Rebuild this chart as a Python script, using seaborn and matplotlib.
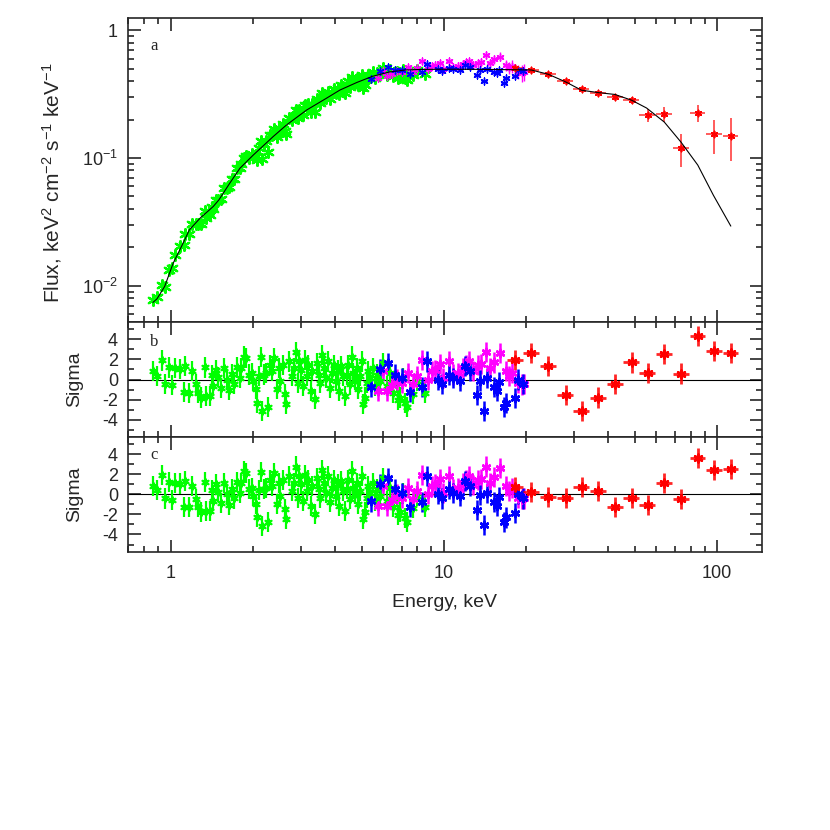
import numpy as np
import matplotlib
matplotlib.use("Agg")
import matplotlib.pyplot as plt
from matplotlib.ticker import FixedLocator, FixedFormatter, LogLocator, NullFormatter, MultipleLocator
import seaborn as sns

# ---- model curve (keV, flux) ----
model_e = [0.86, 0.89, 0.95, 1.02, 1.11, 1.17, 1.28, 1.43, 1.5, 1.64, 1.79, 2.0, 2.37, 2.65,
           3.14, 3.7, 4.16, 4.8, 5.5, 6.34, 7.2, 8.2, 10, 13, 16, 19, 20.9, 24.1, 27.9, 31.9,
           36.7, 42.3, 48.7, 55.2, 64.1, 73.8, 85, 97, 112.3]
model_f = [0.0074, 0.0079, 0.0099, 0.015, 0.0216, 0.0274, 0.0338, 0.0417, 0.047, 0.063, 0.083,
           0.105, 0.147, 0.181, 0.237, 0.292, 0.34, 0.39, 0.437, 0.472, 0.488, 0.493, 0.495,
           0.494, 0.492, 0.49, 0.488, 0.452, 0.394, 0.339, 0.325, 0.314, 0.283, 0.246, 0.191,
           0.133, 0.088, 0.051, 0.0293]

# ---- green instrument ----
green_e = [0.857, 0.891, 0.925, 0.953, 0.986, 1.01, 1.04, 1.08, 1.12, 1.13, 1.17, 1.20, 1.24,
           1.26, 1.29, 1.33, 1.35, 1.39, 1.41, 1.43, 1.46, 1.49, 1.53, 1.56, 1.60, 1.64, 1.68,
           1.71, 1.75, 1.79, 1.81, 1.85, 1.89, 1.93, 1.98, 2.00, 2.05, 2.07, 2.11, 2.14, 2.16,
           2.19, 2.24, 2.27, 2.30, 2.35, 2.39, 2.44, 2.48, 2.52, 2.57, 2.62, 2.65, 2.71, 2.77,
           2.82, 2.87, 2.91, 2.95, 2.99, 3.05, 3.10, 3.14, 3.19, 3.25, 3.30, 3.36, 3.42, 3.48,
           3.53, 3.59, 3.65, 3.70, 3.76, 3.82, 3.89, 3.95, 4.02, 4.08, 4.14, 4.21, 4.28, 4.34,
           4.40, 4.46, 4.53, 4.59, 4.65, 4.72, 4.79, 4.86, 4.92, 5.00, 5.06, 5.14, 5.21, 5.28,
           5.36, 5.51, 5.59, 5.67, 5.83, 6.00, 6.17, 6.34, 6.52, 6.71, 6.80, 6.90, 7.10, 7.20,
           7.30, 7.72, 7.94, 8.50]
green_f = [0.0078, 0.0082, 0.0102, 0.0097, 0.0134, 0.0137, 0.0174, 0.0204, 0.0208, 0.0252,
           0.0253, 0.0304, 0.0306, 0.0302, 0.0306, 0.0388, 0.0338, 0.0357, 0.0417, 0.0401,
           0.0466, 0.047, 0.0474, 0.0577, 0.058, 0.059, 0.069, 0.069, 0.084, 0.084, 0.090,
           0.100, 0.104, 0.100, 0.107, 0.104, 0.104, 0.097, 0.119, 0.135, 0.098, 0.129, 0.136,
           0.112, 0.150, 0.151, 0.168, 0.146, 0.171, 0.163, 0.186, 0.162, 0.155, 0.207, 0.197,
           0.212, 0.237, 0.204, 0.236, 0.230, 0.216, 0.259, 0.242, 0.263, 0.231, 0.265, 0.229,
           0.291, 0.279, 0.271, 0.323, 0.307, 0.295, 0.330, 0.289, 0.322, 0.345, 0.321, 0.350,
           0.315, 0.371, 0.358, 0.321, 0.373, 0.399, 0.362, 0.430, 0.398, 0.388, 0.417, 0.372,
           0.408, 0.450, 0.350, 0.371, 0.413, 0.445, 0.433, 0.468, 0.425, 0.460, 0.451, 0.507,
           0.449, 0.490, 0.439, 0.475, 0.423, 0.432, 0.492, 0.419, 0.408, 0.450, 0.487, 0.455]
green_res = [0.81, 0.39, 1.89, -0.42, 1.2, -0.55, 1.14, 1.07, -1.24, 1.3, -1.3, 0.81, -0.49,
             -1.3, -1.79, 1.2, -1.63, -1.63, 0.42, -0.65, 0.98, 0.23, -0.88, 1.14, 0.0, -1.07,
             0.55, -0.42, 1.2, 0.16, 1.14, 2.28, 2.11, 0.49, 0.65, -0.16, -0.98, -2.28, 0.39,
             2.21, -3.15, 0.49, 0.65, -2.76, 1.4, 0.81, 2.11, -0.98, 1.14, -0.16, 1.46, -1.46,
             -2.44, 1.79, 0.33, 1.14, 2.76, -0.33, 1.79, 0.98, -0.65, 1.95, 0.33, 1.46, -1.14,
             0.81, -1.95, 1.63, 0.49, -0.33, 2.44, 1.14, 0.16, 1.79, -0.81, 0.65, 1.46, -0.16,
             0.98, -1.14, 1.3, 0.33, -1.63, 0.49, 1.46, -0.49, 2.28, 0.65, 0.0, 1.14, -0.98,
             0.33, 1.79, -2.44, -1.79, -0.33, 0.81, 0.16, 1.14, -0.65, 0.49, -0.16, 1.63, -0.65,
             0.65, -1.3, -0.16, -2.05, -1.79, 0.16, -2.37, -2.76, -1.4, -0.16, -1.3]

# ---- blue instrument ----
blue_e = [5.43, 5.83, 6.25, 6.62, 7.0, 7.5, 8.28, 8.69, 9.53, 9.86, 10.4, 10.8, 11.45, 11.9,
          12.5, 13.2, 13.55, 14.0, 14.4, 15.2, 15.6, 15.9, 16.6, 16.9, 18.2, 18.7, 19.4]
blue_f = [0.415, 0.483, 0.516, 0.492, 0.490, 0.453, 0.471, 0.546, 0.495, 0.483, 0.509, 0.500,
          0.490, 0.533, 0.518, 0.449, 0.491, 0.403, 0.497, 0.471, 0.459, 0.486, 0.385, 0.423,
          0.436, 0.490, 0.478]
blue_res = [-0.72, 1.04, 1.63, 0.49, 0.16, -1.24, -0.75, 1.79, 0.0, -0.42, 0.49, 0.16, -0.16,
            1.3, 0.81, -1.53, -0.1, -3.09, 0.16, -0.75, -1.14, -0.23, -2.76, -2.31, -1.85,
            0.0, -0.42]

# ---- magenta instrument ----
mag_e = [5.75, 5.96, 6.17, 6.43, 6.71, 7.0, 7.4, 7.72, 7.94, 8.33, 8.76, 9.02, 9.27, 9.67,
         9.94, 10.4, 10.8, 11.3, 11.7, 12.0, 12.4, 12.8, 13.3, 13.7, 14.3, 14.7, 15.2, 16.0,
         16.9, 17.3, 17.8, 18.6, 19.3, 19.6]
mag_f = [0.420, 0.483, 0.435, 0.458, 0.480, 0.475, 0.511, 0.474, 0.504, 0.570, 0.493, 0.526,
         0.533, 0.556, 0.501, 0.574, 0.517, 0.524, 0.546, 0.560, 0.573, 0.533, 0.558, 0.561,
         0.645, 0.549, 0.590, 0.620, 0.531, 0.507, 0.523, 0.474, 0.466, 0.469]
mag_res = [-1.14, 0.81, -1.14, -0.55, 0.0, -0.33, 0.65, -0.49, 0.33, 1.95, 0.0, 0.81, 0.98,
           1.53, 0.16, 1.79, 0.49, 0.65, 1.14, 1.46, 1.79, 0.88, 1.46, 1.53, 2.76, 1.14, 1.69,
           2.6, 0.81, 0.33, 0.65, -0.33, -0.49, -0.42]
mag_ferr = [0.02, 0.02, 0.02, 0.02, 0.02, 0.02, 0.025, 0.025, 0.025, 0.025, 0.025, 0.03, 0.03,
            0.03, 0.03, 0.03, 0.03, 0.035, 0.035, 0.035, 0.035, 0.04, 0.04, 0.04, 0.045, 0.045,
            0.045, 0.05, 0.05, 0.055, 0.06, 0.06, 0.07, 0.07]

# ---- red instrument ----
red_e = [18.2, 20.9, 24.1, 27.9, 31.9, 36.7, 42.3, 48.7, 55.7, 64.1, 73.8, 85.0, 97.5, 112.3]
red_de = [1.2, 1.4, 1.6, 1.9, 2.1, 2.4, 2.8, 3.3, 3.7, 4.3, 4.9, 5.7, 6.5, 7.5]
red_f = [0.505, 0.49, 0.458, 0.40, 0.349, 0.325, 0.30, 0.283, 0.216, 0.22, 0.12, 0.225,
         0.153, 0.149]
red_ferr = [0.012, 0.01, 0.01, 0.01, 0.012, 0.012, 0.015, 0.018, 0.025, 0.03, 0.035, 0.035,
            0.045, 0.055]
red_res_b = [1.95, 2.6, 1.37, -1.53, -3.12, -1.79, -0.42, 1.69, 0.65, 2.5, 0.59, 4.33, 2.83, 2.63]
red_res_c = [0.76, 0.26, -0.3, -0.33, 0.73, 0.36, -1.26, -0.4, -1.03, 1.09, -0.43, 3.6, 2.45, 2.48]

green_rel_err = 0.05
blue_rel_err = 0.035
green_rel_de = 0.012
bm_rel_de = 0.025

GREEN, BLUE, MAG, RED = "#00ff00", "#0000ff", "#ff00ff", "#ff0000"
STAR = (6, 2, 0)

sns.set_style("ticks")
plt.rcParams["font.family"] = ["Liberation Sans", "DejaVu Sans"]
plt.rcParams["mathtext.fontset"] = "custom"
plt.rcParams["mathtext.rm"] = "Liberation Sans"
plt.rcParams["mathtext.it"] = "Liberation Sans:italic"
plt.rcParams["axes.unicode_minus"] = False

fig = plt.figure(figsize=(8.3, 8.3), dpi=100)
ax_a = fig.add_axes([0.154, 0.612, 0.764, 0.366])
ax_b = fig.add_axes([0.154, 0.4735, 0.764, 0.1385])
ax_c = fig.add_axes([0.154, 0.3355, 0.764, 0.138])


def points(ax, e, y, yerr, xerr, color, lw, size, alpha=1.0):
    ax.errorbar(e, y, yerr=yerr, xerr=xerr, fmt="none", ecolor=color, elinewidth=lw,
                capsize=0, alpha=alpha, zorder=2)
    sns.scatterplot(x=e, y=y, ax=ax, marker=STAR, color=color, s=size, linewidth=lw,
                    legend=False, zorder=3)


def arr(a):
    return np.asarray(a, dtype=float)


# top panel
ge, be, me, re_ = arr(green_e), arr(blue_e), arr(mag_e), arr(red_e)
points(ax_a, ge, green_f, arr(green_f) * green_rel_err, ge * green_rel_de, GREEN, 1.6, 60)
points(ax_a, me, mag_f, mag_ferr, me * bm_rel_de, MAG, 1.0, 25)
points(ax_a, be, blue_f, arr(blue_f) * blue_rel_err, be * bm_rel_de, BLUE, 1.0, 25)
points(ax_a, re_, red_f, red_ferr, red_de, RED, 1.2, 20, alpha=0.75)
sns.lineplot(x=model_e, y=model_f, ax=ax_a, color="black", linewidth=0.8, sort=False,
             zorder=4)

# residual panels
for ax, rres in ((ax_b, red_res_b), (ax_c, red_res_c)):
    ax.axhline(0, color="black", linewidth=0.8, zorder=1)
    points(ax, ge, green_res, 1.0, ge * green_rel_de, GREEN, 1.6, 22)
    points(ax, me, mag_res, 1.0, me * bm_rel_de, MAG, 1.8, 30)
    points(ax, be, blue_res, 1.0, be * bm_rel_de, BLUE, 1.8, 30)
    points(ax, re_, rres, 1.0, red_de, RED, 2.0, 30, alpha=0.85)
    ax.set_ylim(-5.7, 5.7)
    ax.yaxis.set_major_locator(FixedLocator([-4, -2, 0, 2, 4]))
    ax.yaxis.set_minor_locator(MultipleLocator(1))
    ax.set_ylabel("Sigma", fontsize=14)
    ax.yaxis.set_label_coords(-0.07, 0.5)

ax_a.set_yscale("log")
ax_a.set_ylim(0.0052, 1.24)
ax_a.yaxis.set_major_locator(FixedLocator([0.01, 0.1, 1]))
ax_a.yaxis.set_major_formatter(FixedFormatter(["10$^{-2}$", "10$^{-1}$", "1"]))
ax_a.yaxis.set_minor_locator(LogLocator(base=10, subs=np.arange(2, 10)))
ax_a.yaxis.set_minor_formatter(NullFormatter())
ax_a.set_ylabel("Flux, keV$^{2}$ cm$^{-2}$ s$^{-1}$ keV$^{-1}$", fontsize=15)
ax_a.yaxis.set_label_coords(-0.1, 0.46)

for ax in (ax_a, ax_b, ax_c):
    ax.set_xscale("log")
    ax.set_xlim(0.696, 146)
    ax.xaxis.set_major_locator(FixedLocator([1, 10, 100]))
    ax.xaxis.set_minor_locator(LogLocator(base=10, subs=np.arange(2, 10)))
    ax.xaxis.set_minor_formatter(NullFormatter())
    ax.tick_params(which="both", direction="in", top=True, right=True, width=1.2,
                   labelsize=13)
    ax.tick_params(which="major", length=9)
    ax.tick_params(which="minor", length=4.5)
    ax.tick_params(axis="y", which="major", pad=7)
    for s in ax.spines.values():
        s.set_linewidth(1.2)
    ax.set_xlabel("")

ax_a.tick_params(labelbottom=False)
ax_b.tick_params(labelbottom=False)
ax_c.tick_params(axis="x", which="major", pad=10)
ax_c.xaxis.set_major_formatter(FixedFormatter(["1", "10", "100"]))
ax_c.set_xlabel("Energy, keV", fontsize=14, labelpad=8)

for ax, letter, ypos in ((ax_a, "a", 0.91), (ax_b, "b", 0.83), (ax_c, "c", 0.84)):
    ax.text(0.035, ypos, letter, transform=ax.transAxes, fontsize=12,
            family=["Liberation Serif", "DejaVu Serif"], va="center", ha="left")

fig.savefig("out.png", dpi=100)
